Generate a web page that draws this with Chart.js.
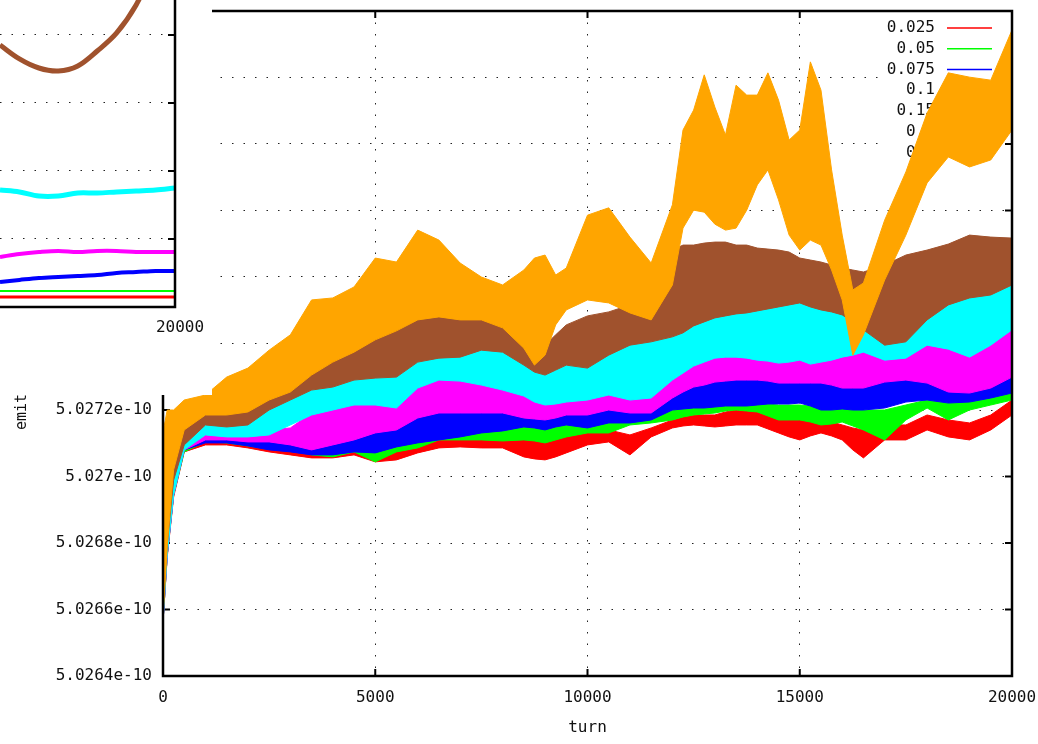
<!DOCTYPE html>
<html>
<head>
<meta charset="utf-8">
<script src="https://cdn.jsdelivr.net/npm/chart.js@4.4.1/dist/chart.umd.min.js"></script>
<style>
  html, body { margin: 0; padding: 0; background: #fff; }
  #wrap { position: relative; width: 1038px; height: 744px; overflow: hidden; }
  #main { position: absolute; left: 0; top: 0; }
  #insetBox { position: absolute; left: 0; top: 0; width: 212px; height: 395px; background: #fff; }
</style>
</head>
<body>
<div id="wrap">
  <canvas id="main" width="1038" height="744"></canvas>
  <div id="insetBox"><canvas id="inset" width="212" height="395"></canvas></div>
</div>
<script>
// turn numbers shared by all bands of the main plot
var turns = [0, 100, 250, 500, 1000, 1500, 2000, 2500, 3000, 3500, 4000, 4500, 5000, 5500, 6000, 6500, 7000, 7500, 8000, 8500, 8750, 9000, 9250, 9500, 10000, 10500, 11000, 11500, 12000, 12250, 12500, 12750, 13000, 13250, 13500, 13750, 14000, 14250, 14500, 14750, 15000, 15250, 15500, 15750, 16000, 16250, 16500, 17000, 17500, 18000, 18500, 19000, 19500, 20000];
var labels = ["0.025", "0.05", "0.075", "0.1", "0.15", "0.2", "0.3"];

// emit (x 1e-10), lower and upper edge of each noisy band
var lo025 = [5.026562, 5.026758, 5.026938, 5.027074, 5.027095, 5.027095, 5.027086, 5.027074, 5.027065, 5.027056, 5.027056, 5.027065, 5.027044, 5.027050, 5.027071, 5.027086, 5.027089, 5.027086, 5.027086, 5.027059, 5.027053, 5.027050, 5.027059, 5.027071, 5.027095, 5.027104, 5.027065, 5.027119, 5.027146, 5.027152, 5.027155, 5.027152, 5.027149, 5.027152, 5.027155, 5.027155, 5.027155, 5.027143, 5.027131, 5.027119, 5.027110, 5.027122, 5.027131, 5.027122, 5.027110, 5.027080, 5.027056, 5.027110, 5.027110, 5.027140, 5.027119, 5.027110, 5.027140, 5.027185];
var hi025 = [5.026614, 5.026794, 5.026983, 5.027110, 5.027110, 5.027110, 5.027104, 5.027098, 5.027092, 5.027086, 5.027086, 5.027095, 5.027089, 5.027095, 5.027110, 5.027119, 5.027125, 5.027131, 5.027131, 5.027119, 5.027119, 5.027119, 5.027125, 5.027131, 5.027140, 5.027140, 5.027125, 5.027146, 5.027170, 5.027179, 5.027185, 5.027185, 5.027185, 5.027194, 5.027200, 5.027197, 5.027194, 5.027185, 5.027176, 5.027173, 5.027170, 5.027170, 5.027170, 5.027164, 5.027155, 5.027146, 5.027140, 5.027155, 5.027155, 5.027185, 5.027170, 5.027161, 5.027185, 5.027230];
var lo05 = [5.026562, 5.026764, 5.026944, 5.027074, 5.027104, 5.027101, 5.027092, 5.027083, 5.027080, 5.027065, 5.027059, 5.027074, 5.027044, 5.027074, 5.027086, 5.027110, 5.027110, 5.027110, 5.027107, 5.027110, 5.027107, 5.027101, 5.027110, 5.027119, 5.027131, 5.027131, 5.027155, 5.027161, 5.027170, 5.027179, 5.027185, 5.027188, 5.027191, 5.027197, 5.027200, 5.027197, 5.027194, 5.027182, 5.027170, 5.027170, 5.027170, 5.027164, 5.027155, 5.027158, 5.027164, 5.027152, 5.027140, 5.027110, 5.027170, 5.027206, 5.027170, 5.027200, 5.027215, 5.027230];
var hi05 = [5.026629, 5.026809, 5.026995, 5.027119, 5.027119, 5.027119, 5.027110, 5.027107, 5.027101, 5.027089, 5.027089, 5.027101, 5.027101, 5.027110, 5.027125, 5.027140, 5.027146, 5.027146, 5.027146, 5.027155, 5.027152, 5.027149, 5.027158, 5.027164, 5.027164, 5.027176, 5.027170, 5.027185, 5.027206, 5.027212, 5.027215, 5.027218, 5.027221, 5.027221, 5.027221, 5.027221, 5.027221, 5.027218, 5.027215, 5.027215, 5.027215, 5.027212, 5.027206, 5.027212, 5.027215, 5.027206, 5.027200, 5.027200, 5.027215, 5.027230, 5.027221, 5.027230, 5.027245, 5.027260];
var lo075 = [5.026562, 5.026764, 5.026944, 5.027080, 5.027101, 5.027101, 5.027092, 5.027080, 5.027074, 5.027065, 5.027065, 5.027074, 5.027071, 5.027089, 5.027101, 5.027110, 5.027119, 5.027131, 5.027137, 5.027149, 5.027146, 5.027140, 5.027149, 5.027155, 5.027146, 5.027161, 5.027161, 5.027170, 5.027200, 5.027203, 5.027206, 5.027206, 5.027209, 5.027212, 5.027212, 5.027212, 5.027215, 5.027218, 5.027218, 5.027218, 5.027221, 5.027212, 5.027200, 5.027200, 5.027203, 5.027200, 5.027200, 5.027206, 5.027224, 5.027230, 5.027221, 5.027224, 5.027236, 5.027251];
var hi075 = [5.026629, 5.026809, 5.026995, 5.027119, 5.027134, 5.027134, 5.027128, 5.027128, 5.027119, 5.027104, 5.027119, 5.027134, 5.027155, 5.027164, 5.027200, 5.027215, 5.027215, 5.027215, 5.027215, 5.027200, 5.027197, 5.027194, 5.027200, 5.027209, 5.027209, 5.027224, 5.027215, 5.027215, 5.027260, 5.027278, 5.027293, 5.027299, 5.027308, 5.027311, 5.027314, 5.027314, 5.027314, 5.027311, 5.027305, 5.027305, 5.027305, 5.027305, 5.027305, 5.027299, 5.027290, 5.027290, 5.027290, 5.027308, 5.027314, 5.027305, 5.027278, 5.027275, 5.027305, 5.027395];
var lo1 = [5.026562, 5.026764, 5.026944, 5.027080, 5.027110, 5.027110, 5.027104, 5.027104, 5.027095, 5.027080, 5.027095, 5.027110, 5.027131, 5.027140, 5.027176, 5.027191, 5.027191, 5.027191, 5.027191, 5.027176, 5.027173, 5.027170, 5.027176, 5.027185, 5.027185, 5.027200, 5.027191, 5.027191, 5.027236, 5.027254, 5.027269, 5.027275, 5.027284, 5.027287, 5.027290, 5.027290, 5.027290, 5.027287, 5.027281, 5.027281, 5.027281, 5.027281, 5.027281, 5.027275, 5.027266, 5.027266, 5.027266, 5.027284, 5.027290, 5.027281, 5.027254, 5.027251, 5.027266, 5.027299];
var hi1 = [5.026629, 5.026809, 5.026995, 5.027119, 5.027134, 5.027140, 5.027140, 5.027140, 5.027146, 5.027191, 5.027200, 5.027221, 5.027221, 5.027215, 5.027275, 5.027296, 5.027296, 5.027281, 5.027269, 5.027251, 5.027236, 5.027224, 5.027230, 5.027236, 5.027239, 5.027254, 5.027239, 5.027245, 5.027299, 5.027320, 5.027338, 5.027350, 5.027365, 5.027365, 5.027365, 5.027362, 5.027359, 5.027356, 5.027350, 5.027356, 5.027359, 5.027356, 5.027350, 5.027359, 5.027365, 5.027374, 5.027380, 5.027359, 5.027365, 5.027405, 5.027389, 5.027368, 5.027405, 5.027447];
var lo15 = [5.026562, 5.026764, 5.026944, 5.027080, 5.027125, 5.027119, 5.027119, 5.027125, 5.027155, 5.027185, 5.027200, 5.027215, 5.027215, 5.027206, 5.027266, 5.027290, 5.027287, 5.027275, 5.027260, 5.027242, 5.027224, 5.027215, 5.027218, 5.027224, 5.027230, 5.027245, 5.027230, 5.027236, 5.027290, 5.027311, 5.027332, 5.027344, 5.027356, 5.027359, 5.027359, 5.027356, 5.027350, 5.027347, 5.027341, 5.027344, 5.027350, 5.027338, 5.027344, 5.027350, 5.027359, 5.027365, 5.027374, 5.027350, 5.027356, 5.027395, 5.027383, 5.027359, 5.027395, 5.027441];
var hi15 = [5.026629, 5.026809, 5.026995, 5.027119, 5.027155, 5.027155, 5.027161, 5.027206, 5.027236, 5.027266, 5.027275, 5.027296, 5.027305, 5.027308, 5.027350, 5.027371, 5.027371, 5.027386, 5.027380, 5.027344, 5.027332, 5.027320, 5.027332, 5.027344, 5.027335, 5.027374, 5.027401, 5.027411, 5.027429, 5.027447, 5.027462, 5.027474, 5.027486, 5.027492, 5.027498, 5.027504, 5.027507, 5.027513, 5.027519, 5.027525, 5.027531, 5.027522, 5.027510, 5.027501, 5.027495, 5.027471, 5.027450, 5.027405, 5.027411, 5.027480, 5.027525, 5.027546, 5.027555, 5.027585];
var lo2 = [5.026583, 5.026794, 5.026989, 5.027095, 5.027155, 5.027149, 5.027155, 5.027200, 5.027230, 5.027260, 5.027269, 5.027290, 5.027296, 5.027299, 5.027344, 5.027356, 5.027359, 5.027380, 5.027374, 5.027335, 5.027314, 5.027305, 5.027320, 5.027335, 5.027326, 5.027365, 5.027395, 5.027405, 5.027420, 5.027432, 5.027453, 5.027465, 5.027477, 5.027483, 5.027489, 5.027492, 5.027498, 5.027504, 5.027510, 5.027516, 5.027522, 5.027510, 5.027501, 5.027495, 5.027486, 5.027465, 5.027441, 5.027395, 5.027405, 5.027471, 5.027516, 5.027537, 5.027546, 5.027576];
var hi2 = [5.026644, 5.026869, 5.027065, 5.027155, 5.027191, 5.027209, 5.027215, 5.027245, 5.027275, 5.027320, 5.027359, 5.027389, 5.027426, 5.027456, 5.027486, 5.027495, 5.027486, 5.027486, 5.027465, 5.027411, 5.027401, 5.027395, 5.027426, 5.027456, 5.027483, 5.027495, 5.027516, 5.027561, 5.027681, 5.027696, 5.027696, 5.027702, 5.027705, 5.027705, 5.027696, 5.027696, 5.027687, 5.027684, 5.027681, 5.027675, 5.027657, 5.027651, 5.027645, 5.027636, 5.027627, 5.027621, 5.027615, 5.027636, 5.027666, 5.027681, 5.027699, 5.027726, 5.027720, 5.027717];
var lo3 = [5.026577, 5.026794, 5.027020, 5.027140, 5.027185, 5.027185, 5.027194, 5.027230, 5.027254, 5.027305, 5.027344, 5.027374, 5.027411, 5.027438, 5.027471, 5.027480, 5.027471, 5.027471, 5.027447, 5.027386, 5.027335, 5.027365, 5.027456, 5.027501, 5.027531, 5.027522, 5.027492, 5.027471, 5.027576, 5.027747, 5.027801, 5.027795, 5.027759, 5.027741, 5.027747, 5.027801, 5.027877, 5.027922, 5.027832, 5.027726, 5.027681, 5.027711, 5.027696, 5.027621, 5.027531, 5.027365, 5.027426, 5.027591, 5.027726, 5.027883, 5.027961, 5.027931, 5.027952, 5.028042];
var hi3 = [5.027134, 5.027200, 5.027200, 5.027230, 5.027245, 5.027299, 5.027326, 5.027380, 5.027426, 5.027531, 5.027537, 5.027570, 5.027657, 5.027645, 5.027741, 5.027711, 5.027642, 5.027600, 5.027576, 5.027621, 5.027657, 5.027666, 5.027606, 5.027627, 5.027786, 5.027808, 5.027720, 5.027642, 5.027817, 5.028042, 5.028102, 5.028208, 5.028111, 5.028027, 5.028177, 5.028147, 5.028147, 5.028214, 5.028132, 5.028012, 5.028042, 5.028247, 5.028162, 5.027922, 5.027726, 5.027561, 5.027582, 5.027771, 5.027916, 5.028093, 5.028214, 5.028201, 5.028192, 5.028343];

// inset (other run), its own scale
var insetTurns = [11000, 12000, 13000, 14000, 15000, 16000, 17000, 18000, 19000, 20000];
var insetRed = [5.026574, 5.026574, 5.026574, 5.026574, 5.026574, 5.026574, 5.026574, 5.026574, 5.026574, 5.026574];
var insetGreen = [5.026618, 5.026618, 5.026618, 5.026618, 5.026618, 5.026618, 5.026618, 5.026618, 5.026618, 5.026618];
var insetBlue = [5.026684, 5.026699, 5.026713, 5.026721, 5.026728, 5.026735, 5.026750, 5.026757, 5.026765, 5.026765];
var insetMagenta = [5.026868, 5.026890, 5.026904, 5.026912, 5.026904, 5.026912, 5.026912, 5.026904, 5.026904, 5.026904];
var insetCyan = [5.027360, 5.027346, 5.027316, 5.027316, 5.027338, 5.027338, 5.027346, 5.027353, 5.027360, 5.027375];
var insetBrown = [5.028426, 5.028324, 5.028257, 5.028235, 5.028272, 5.028382, 5.028515, 5.028721, 5.029015, 5.029235];

var colors = ["#ff0000", "#00ff00", "#0000ff", "#ff00ff", "#00ffff", "#a0522d", "#ffa500"];
var FONT = "'DejaVu Sans Mono', monospace";
var DOTS = [1.5, 10];

Chart.defaults.font.family = FONT;
Chart.defaults.font.size = 16;
Chart.defaults.color = "#111";

function xy(xs, ys) {
    return xs.map(function (t, i) { return { x: t, y: ys[i] }; });
}

var bands = [[lo025, hi025], [lo05, hi05], [lo075, hi075], [lo1, hi1], [lo15, hi15], [lo2, hi2], [lo3, hi3]];
var datasets = [];
bands.forEach(function (b, i) {
    var order = bands.length - i;
    datasets.push({
        label: labels[i] + " low", data: xy(turns, b[0]), borderColor: colors[i],
        borderWidth: 1, pointRadius: 0, fill: false, order: order
    });
    datasets.push({
        label: labels[i], data: xy(turns, b[1]), borderColor: colors[i], backgroundColor: colors[i],
        borderWidth: 1, pointRadius: 0, fill: { target: datasets.length - 1 }, order: order
    });
});

function dotted(skip) {
    return function (ctx) {
        var v = ctx.tick ? ctx.tick.value : null;
        return skip(v) ? "rgba(0,0,0,0)" : "#222";
    };
}

// keep chart area exactly where layout.padding puts it
function noOverflow(s) {
    s.paddingTop = 0; s.paddingBottom = 0; s.paddingLeft = 0; s.paddingRight = 0;
}

// key, inward ticks, frame and axis titles (gnuplot look)
var frame = {
    id: "frame",
    beforeDatasetsDraw: function (chart) {
        var c = chart.ctx, a = chart.chartArea, sx = chart.scales.x, sy = chart.scales.y;
        c.save();
        c.fillStyle = "#fff";
        c.fillRect(a.right - 132, a.top + 4, 126, 152);
        c.font = "16px " + FONT;
        c.textAlign = "right";
        c.textBaseline = "middle";
        labels.forEach(function (l, i) {
            var ly = a.top + 17 + i * 20.75;
            c.fillStyle = "#111";
            c.fillText(l, a.right - 77, ly);
            c.strokeStyle = colors[i];
            c.lineWidth = 1.5;
            c.beginPath();
            c.moveTo(a.right - 65, ly);
            c.lineTo(a.right - 20, ly);
            c.stroke();
        });
        c.strokeStyle = "#000";
        c.lineWidth = 2;
        c.beginPath();
        sy.ticks.forEach(function (t) {
            var py = sy.getPixelForValue(t.value);
            c.moveTo(a.left, py); c.lineTo(a.left + 7, py);
            c.moveTo(a.right, py); c.lineTo(a.right - 7, py);
        });
        sx.ticks.forEach(function (t) {
            var px = sx.getPixelForValue(t.value);
            c.moveTo(px, a.bottom); c.lineTo(px, a.bottom - 7);
            c.moveTo(px, a.top); c.lineTo(px, a.top + 7);
        });
        c.stroke();
        c.restore();
    },
    afterDatasetsDraw: function (chart) {
        var c = chart.ctx, a = chart.chartArea;
        c.save();
        c.strokeStyle = "#000";
        c.lineWidth = 2.5;
        c.strokeRect(a.left, a.top, a.right - a.left, a.bottom - a.top);
        c.restore();
    },
    afterDraw: function (chart) {
        var c = chart.ctx, a = chart.chartArea;
        c.save();
        c.fillStyle = "#111";
        c.font = "16px " + FONT;
        c.textAlign = "center";
        c.textBaseline = "middle";
        c.fillText("turn", (a.left + a.right) / 2, 728);
        c.translate(22, 412);
        c.rotate(-Math.PI / 2);
        c.font = "15px " + FONT;
        c.fillText("emit", 0, 0);
        c.restore();
    }
};

new Chart(document.getElementById("main").getContext("2d"), {
    type: "line",
    data: { datasets: datasets },
    options: {
        responsive: false,
        animation: false,
        layout: { padding: { left: 0, right: 26, top: 11, bottom: 0 } },
        plugins: { legend: { display: false }, tooltip: { enabled: false } },
        elements: { line: { tension: 0 } },
        scales: {
            x: {
                type: "linear", min: 0, max: 20000,
                afterFit: function (s) { s.height = 68; noOverflow(s); },
                border: { display: false, dash: DOTS },
                grid: {
                    drawTicks: false, lineWidth: 1,
                    color: dotted(function (v) { return v === 0 || v === 20000; })
                },
                ticks: {
                    stepSize: 5000, padding: 12, maxRotation: 0,
                    callback: function (v) { return String(v); }
                }
            },
            y: {
                min: 5.0264, max: 5.0284,
                afterFit: function (s) { s.width = 163; noOverflow(s); },
                border: { display: false, dash: DOTS },
                grid: {
                    drawTicks: false, lineWidth: 1,
                    color: dotted(function (v) { return v <= 5.02641 || v >= 5.02839; })
                },
                ticks: {
                    stepSize: 0.0002, padding: 11,
                    callback: function (v) { return parseFloat((+v).toFixed(4)) + "e-10"; }
                }
            }
        }
    },
    plugins: [frame]
});

// inset
function onGrid(v) { return Math.abs(v * 2000 - Math.round(v * 2000)) < 1e-6; }

var insetFrame = {
    id: "insetFrame",
    afterDatasetsDraw: function (chart) {
        var c = chart.ctx, a = chart.chartArea, sy = chart.scales.y;
        c.save();
        c.strokeStyle = "#000";
        c.lineWidth = 2.5;
        c.beginPath();
        c.moveTo(a.left, a.bottom);
        c.lineTo(a.right, a.bottom);
        c.lineTo(a.right, a.top);
        c.stroke();
        c.lineWidth = 2;
        c.beginPath();
        sy.ticks.forEach(function (t) {
            if (!onGrid(t.value)) return;
            var py = sy.getPixelForValue(t.value);
            c.moveTo(a.right - 7, py); c.lineTo(a.right, py);
        });
        c.stroke();
        c.fillStyle = "#111";
        c.font = "16px " + FONT;
        c.textAlign = "center";
        c.textBaseline = "middle";
        c.fillText("20000", a.right + 5, a.bottom + 21);
        c.restore();
    }
};

var insetSeries = [insetRed, insetGreen, insetBlue, insetMagenta, insetCyan, insetBrown];
var insetWidths = [3, 2, 4, 4, 5, 5];
new Chart(document.getElementById("inset").getContext("2d"), {
    type: "line",
    data: {
        datasets: insetSeries.map(function (s, i) {
            return {
                label: labels[i], data: xy(insetTurns, s), borderColor: colors[i],
                borderWidth: insetWidths[i], pointRadius: 0, fill: false, tension: 0.35,
                order: insetSeries.length - i
            };
        })
    },
    options: {
        responsive: false,
        animation: false,
        layout: { padding: { left: 0, right: 37, top: 0, bottom: 0 } },
        plugins: { legend: { display: false }, tooltip: { enabled: false } },
        scales: {
            x: {
                type: "linear", min: 11000, max: 20000,
                afterFit: function (s) { s.height = 88; noOverflow(s); },
                border: { display: false },
                grid: { display: false },
                ticks: { display: false }
            },
            y: {
                min: 5.0265, max: 5.028757,
                afterFit: function (s) { s.width = 0; noOverflow(s); },
                border: { display: false, dash: DOTS },
                grid: {
                    drawTicks: false, lineWidth: 1,
                    color: dotted(function (v) { return v === null || v <= 5.02651 || !onGrid(v); })
                },
                ticks: { display: false, stepSize: 0.0005 }
            }
        }
    },
    plugins: [insetFrame]
});
</script>
</body>
</html>
